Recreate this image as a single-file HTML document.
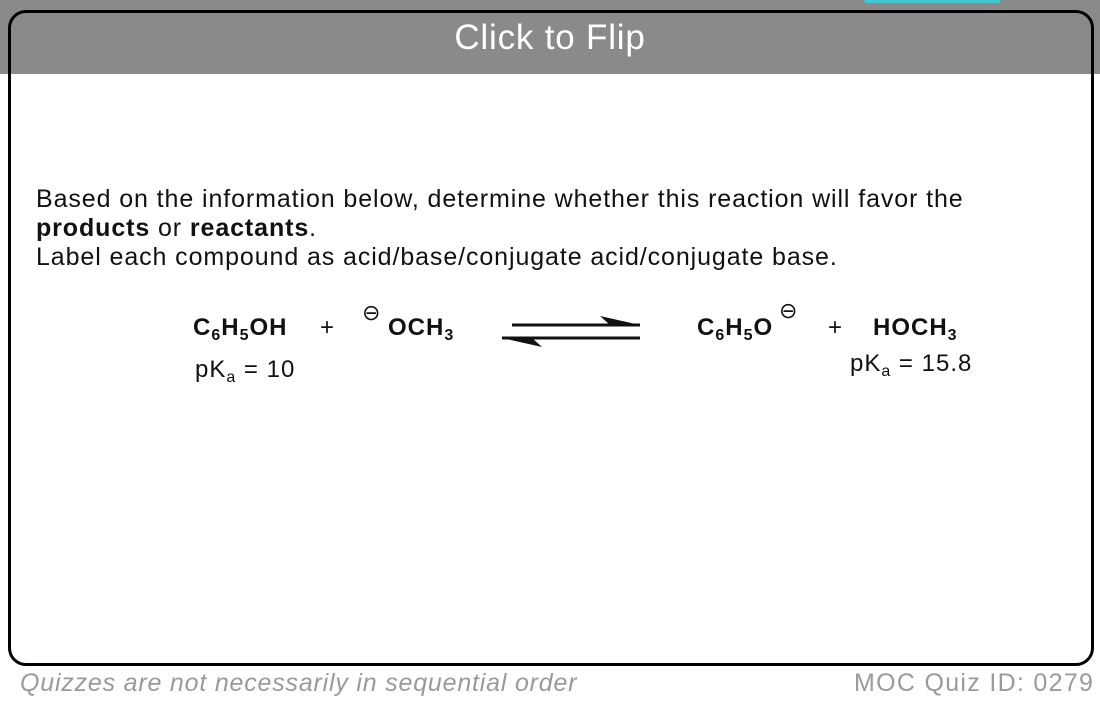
<!DOCTYPE html>
<html><head><meta charset="utf-8"><style>
html,body{margin:0;padding:0;width:1100px;height:704px;background:#fff;overflow:hidden;font-family:"Liberation Sans",sans-serif;position:relative}
.hdr{position:absolute;left:0;top:0;width:1100px;height:74px;background:#8a8a8a}
.tab{position:absolute;left:864px;top:0;width:137px;height:3px;background:#3cc9d8;border-radius:0 0 4px 4px}
.card{position:absolute;left:8px;top:10px;width:1080px;height:650px;border:3px solid #000;border-radius:18px}
.title{position:absolute;left:0;width:1100px;top:18px;text-align:center;color:#fff;font-size:35px;letter-spacing:0.8px}
.q{position:absolute;left:36px;top:185px;font-size:25px;line-height:29px;color:#111;letter-spacing:0.9px;white-space:nowrap}
.t{position:absolute;font-size:24px;color:#111;white-space:nowrap;letter-spacing:1px}
.b{font-weight:bold}
sub{font-size:16px;vertical-align:-5px;line-height:0}
.foot{position:absolute;top:669px;font-size:25px;color:#9a9a9a;white-space:nowrap}
</style></head><body>
<div class="hdr"></div>
<div class="tab"></div>
<div class="card"></div>
<div class="title">Click to Flip</div>
<div class="q">Based on the information below, determine whether this reaction will favor the<br><b>products</b> or <b>reactants</b>.<br>Label each compound as acid/base/conjugate acid/conjugate base.</div>
<div class="t b" style="left:193px;top:314px">C<sub>6</sub>H<sub>5</sub>OH</div>
<div class="t" style="left:320px;top:314px">+</div>
<div class="t" style="left:362px;top:300px;font-size:22px">&#8854;</div>
<div class="t b" style="left:388px;top:314px">OCH<sub>3</sub></div>
<svg style="position:absolute;left:0;top:0" width="1100" height="704">
<line x1="512" y1="325" x2="640" y2="325" stroke="#111" stroke-width="3"/>
<polygon points="640,325 600,316 610,325" fill="#111"/>
<line x1="502" y1="338" x2="640" y2="338" stroke="#111" stroke-width="3"/>
<polygon points="502,338 542,347 532,338" fill="#111"/>
</svg>
<div class="t b" style="left:697px;top:314px">C<sub>6</sub>H<sub>5</sub>O</div>
<div class="t" style="left:779px;top:298px;font-size:22px">&#8854;</div>
<div class="t" style="left:828px;top:314px">+</div>
<div class="t b" style="left:873px;top:314px">HOCH<sub>3</sub></div>
<div class="t" style="left:195px;top:356px">pK<sub>a</sub> = 10</div>
<div class="t" style="left:850px;top:350px">pK<sub>a</sub> = 15.8</div>
<div class="foot" style="left:20px;font-style:italic;letter-spacing:0.8px">Quizzes are not necessarily in sequential order</div>
<div class="foot" style="left:854px;letter-spacing:1.3px">MOC Quiz ID: 0279</div>
</body></html>
